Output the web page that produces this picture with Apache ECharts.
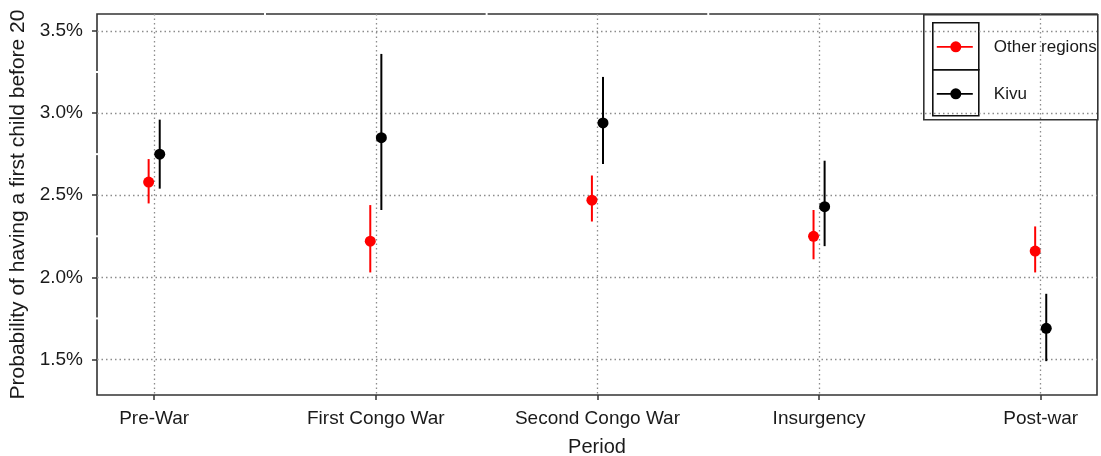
<!DOCTYPE html>
<html>
<head>
<meta charset="utf-8">
<script src="https://cdn.jsdelivr.net/npm/echarts@6/dist/echarts.min.js"></script>
<style>
html,body{margin:0;padding:0;background:#fff;}
#chart{width:1101px;height:456px;}
</style>
</head>
<body>
<div id="chart"></div>
<script>
// ---- data (probabilities in %) ----
const categories = ['Pre-War', 'First Congo War', 'Second Congo War', 'Insurgency', 'Post-war'];
const otherMean = [2.58, 2.22, 2.47, 2.25, 2.16];
const otherLow  = [2.45, 2.03, 2.34, 2.11, 2.03];
const otherHigh = [2.72, 2.44, 2.62, 2.41, 2.31];
const kivuMean  = [2.75, 2.85, 2.94, 2.43, 1.69];
const kivuLow   = [2.54, 2.41, 2.69, 2.19, 1.49];
const kivuHigh  = [2.96, 3.36, 3.22, 2.71, 1.90];
const yTicks = [1.5, 2.0, 2.5, 3.0, 3.5];
const yMinor = [1.75, 2.25, 2.75, 3.25];
const xMinor = [1.5, 2.5, 3.5];
const groups = ['Other regions', 'Kivu'];

const FONT = '"Liberation Sans", Arial, sans-serif';
const TXT = '#1a1a1a';
const dodge = 0.025;
const catPos = categories.map((c, i) => i + 1);

function makeSeries(name, color, mean, low, high, off) {
  const data = categories.map((c, i) => [catPos[i] + off, mean[i], low[i], high[i]]);
  return [
    {
      name: name,
      type: 'custom',
      z: 3,
      data: data,
      renderItem: function (params, api) {
        const p1 = api.coord([api.value(0), api.value(2)]);
        const p2 = api.coord([api.value(0), api.value(3)]);
        return {
          type: 'line',
          shape: { x1: p1[0], y1: p1[1], x2: p2[0], y2: p2[1] },
          style: { stroke: color, lineWidth: 2 }
        };
      },
      encode: { x: 0, y: [1, 2, 3] }
    },
    {
      name: name,
      type: 'scatter',
      z: 4,
      symbol: 'circle',
      symbolSize: 11,
      itemStyle: { color: color, opacity: 1 },
      data: data.map(d => [d[0], d[1]])
    }
  ];
}

const chart = echarts.init(document.getElementById('chart'), null, { renderer: 'canvas' });

const gridLine = { color: '#8c8c8c', type: [1.5, 3], width: 1.3 };

const option = {
  animation: false,
  backgroundColor: '#fff',
  grid: {
    left: 97, right: 4, top: 14, bottom: 61,
    outerBoundsMode: 'none',
    containLabel: false,
    show: true, borderColor: '#333', borderWidth: 1.6, backgroundColor: 'transparent'
  },
  xAxis: {
    type: 'value',
    min: 0.742, max: 5.254,
    name: 'Period',
    nameLocation: 'middle',
    nameGap: 42,
    nameTextStyle: { fontFamily: FONT, fontSize: 20, color: TXT },
    axisLine: { show: false },
    axisTick: { show: true, customValues: catPos, length: 5, lineStyle: { color: '#333', width: 1.5 } },
    axisLabel: {
      customValues: catPos,
      margin: 14,
      fontFamily: FONT, fontSize: 19, color: TXT,
      formatter: v => categories[Math.round(v) - 1] || ''
    },
    splitLine: { show: true, lineStyle: gridLine }
  },
  yAxis: {
    type: 'value',
    min: 1.284, max: 3.603,
    name: 'Probability of having a first child before 20',
    nameLocation: 'middle',
    nameGap: 67,
    nameTextStyle: { fontFamily: FONT, fontSize: 21, color: TXT },
    axisLine: { show: false },
    axisTick: { show: true, customValues: yTicks, length: 5, lineStyle: { color: '#333', width: 1.5 } },
    axisLabel: {
      customValues: yTicks,
      margin: 14,
      fontFamily: FONT, fontSize: 19, color: TXT,
      formatter: v => v.toFixed(1) + '%'
    },
    splitLine: { show: true, lineStyle: gridLine }
  },
  series: [].concat(
    makeSeries(groups[0], '#ff0000', otherMean, otherLow, otherHigh, -dodge),
    makeSeries(groups[1], '#000000', kivuMean, kivuLow, kivuHigh, dodge)
  ),
  graphic: [
    {
      type: 'group', left: 923, top: 14, z: 100,
      children: [
        { type: 'rect', shape: { x: 0, y: 0, width: 174, height: 105 }, style: { fill: '#fff', stroke: '#333', lineWidth: 1.6 } },
        { type: 'rect', shape: { x: 9, y: 8, width: 46, height: 47 }, style: { fill: 'none', stroke: '#111', lineWidth: 1.6 } },
        { type: 'rect', shape: { x: 9, y: 55, width: 46, height: 46 }, style: { fill: 'none', stroke: '#111', lineWidth: 1.6 } },
        { type: 'line', shape: { x1: 13, y1: 32, x2: 49, y2: 32 }, style: { stroke: '#ff0000', lineWidth: 1.8 } },
        { type: 'circle', shape: { cx: 32, cy: 32, r: 5.5 }, style: { fill: '#ff0000' } },
        { type: 'line', shape: { x1: 13, y1: 79, x2: 49, y2: 79 }, style: { stroke: '#000', lineWidth: 1.8 } },
        { type: 'circle', shape: { cx: 32, cy: 79, r: 5.5 }, style: { fill: '#000' } },
        { type: 'text', x: 70, y: 33, style: { text: groups[0], fontFamily: FONT, fontSize: 17, fill: TXT, verticalAlign: 'middle' } },
        { type: 'text', x: 70, y: 80, style: { text: groups[1], fontFamily: FONT, fontSize: 17, fill: TXT, verticalAlign: 'middle' } }
      ]
    }
  ]
};
chart.setOption(option);

// white minor-grid notches on the left and top frame lines
const notches = [];
yMinor.forEach(v => {
  const p = chart.convertToPixel({ gridIndex: 0 }, [0.742, v]);
  notches.push({ type: 'rect', z: 50, shape: { x: p[0] - 2, y: p[1] - 1, width: 4, height: 2 }, style: { fill: '#fff' } });
});
xMinor.forEach(v => {
  const p = chart.convertToPixel({ gridIndex: 0 }, [v, 3.603]);
  notches.push({ type: 'rect', z: 50, shape: { x: p[0] - 1, y: p[1] - 2, width: 2, height: 4 }, style: { fill: '#fff' } });
});
chart.setOption({ graphic: option.graphic.concat(notches) });
</script>
</body>
</html>
